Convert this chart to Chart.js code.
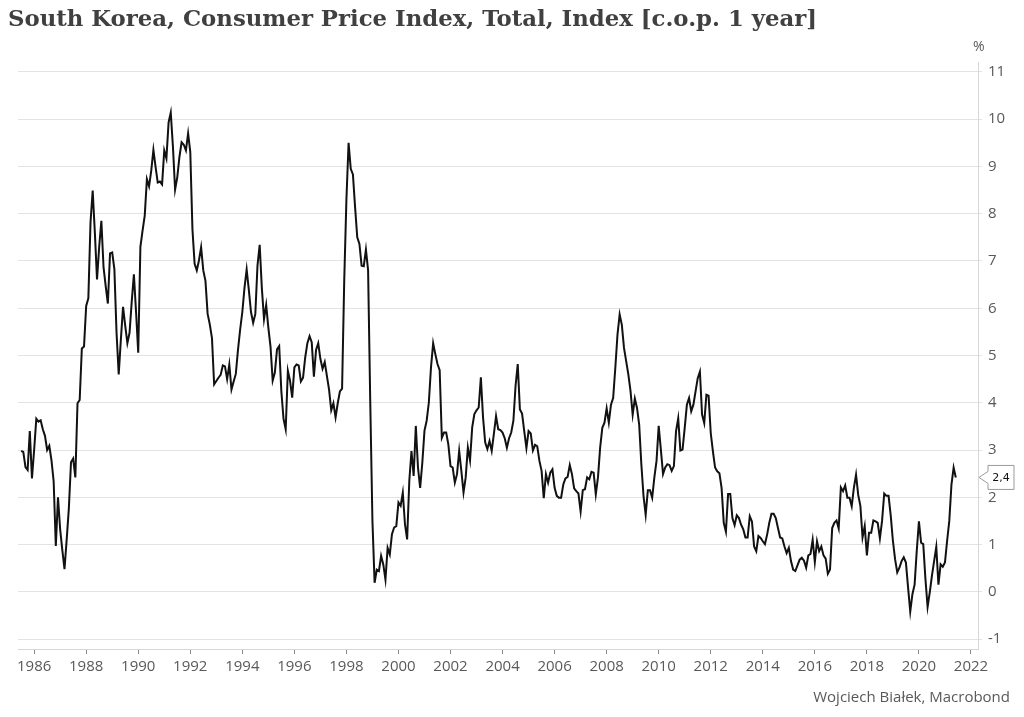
<!DOCTYPE html>
<html>
<head>
<meta charset="utf-8">
<script src="https://cdn.jsdelivr.net/npm/chart.js@4"></script>
<style>
  html, body { margin: 0; padding: 0; background: #fff; }
  #wrap { position: relative; width: 1024px; height: 717px; }
  #title {
    position: absolute; left: 8px; top: 5px;
    font-family: "DejaVu Serif", serif; font-weight: bold; font-size: 22.8px;
    color: #404040; white-space: nowrap;
  }
  #source {
    position: absolute; right: 14px; top: 686px;
    font-family: "Open Sans", sans-serif; font-size: 15px; color: #595959;
  }
</style>
</head>
<body>
<div id="wrap">
  <canvas id="chart"></canvas>
  <div id="title">South Korea, Consumer Price Index, Total, Index [c.o.p. 1 year]</div>
  <div id="source">Wojciech Białek, Macrobond</div>
</div>
<script>
// monthly y/y change, first value = July 1985, last = June 2021
const startYear = 1985;
const startMonth = 7;
const cpi = [
  2.98, 2.96, 2.64, 2.58, 3.4, 2.4, 3.0, 3.66, 3.6, 3.63, 3.44, 3.3,
  3.0, 3.09, 2.78, 2.34, 0.97, 2.0, 1.32, 0.88, 0.48, 1.1, 1.76, 2.74,
  2.82, 2.42, 3.99, 4.06, 5.15, 5.19, 6.05, 6.21, 7.82, 8.49, 7.6, 6.61,
  7.3, 7.85, 6.87, 6.47, 6.1, 7.16, 7.18, 6.83, 5.48, 4.6, 5.34, 6.03,
  5.63, 5.26, 5.48, 6.14, 6.72, 5.92, 5.06, 7.3, 7.64, 7.96, 8.73, 8.58,
  8.91, 9.35, 8.99, 8.66, 8.68, 8.62, 9.34, 9.17, 9.93, 10.14, 9.42, 8.51,
  8.77, 9.2, 9.51, 9.46, 9.34, 9.7, 9.31, 7.67, 6.94, 6.8, 7.01, 7.29,
  6.8, 6.58, 5.88, 5.66, 5.37, 4.39, 4.46, 4.53, 4.59, 4.79, 4.77, 4.5,
  4.81, 4.28, 4.45, 4.61, 5.12, 5.55, 5.92, 6.43, 6.82, 6.39, 5.92, 5.69,
  5.88, 6.91, 7.34, 6.43, 5.77, 6.07, 5.59, 5.19, 4.47, 4.64, 5.13, 5.2,
  4.24, 3.66, 3.44, 4.68, 4.47, 4.11, 4.75, 4.81, 4.79, 4.45, 4.53, 4.96,
  5.26, 5.41, 5.28, 4.55, 5.12, 5.26, 4.93, 4.72, 4.86, 4.57, 4.28, 3.84,
  3.99, 3.69, 3.99, 4.24, 4.3, 6.6, 8.3, 9.5, 8.95, 8.83, 8.14, 7.5,
  7.36, 6.9, 6.89, 7.24, 6.8, 4.0, 1.5, 0.19, 0.47, 0.44, 0.76, 0.58,
  0.26, 0.93, 0.79, 1.22, 1.36, 1.39, 1.89, 1.82, 2.1, 1.43, 1.11, 2.35,
  2.98, 2.45, 3.51, 2.63, 2.2, 2.73, 3.41, 3.62, 4.0, 4.75, 5.26, 5.03,
  4.82, 4.69, 3.26, 3.37, 3.37, 3.12, 2.66, 2.63, 2.31, 2.49, 2.98, 2.56,
  2.1, 2.42, 3.05, 2.78, 3.48, 3.76, 3.84, 3.9, 4.54, 3.69, 3.16, 3.02,
  3.19, 2.98, 3.34, 3.72, 3.44, 3.42, 3.37, 3.25, 3.05, 3.25, 3.37, 3.62,
  4.36, 4.82, 3.86, 3.77, 3.4, 3.04, 3.4, 3.35, 2.99, 3.11, 3.08, 2.77,
  2.56, 1.98, 2.49, 2.31, 2.52, 2.59, 2.2, 2.03, 1.99, 1.99, 2.27, 2.4,
  2.43, 2.68, 2.49, 2.19, 2.13, 2.08, 1.7, 2.15, 2.17, 2.42, 2.38, 2.54,
  2.52, 2.06, 2.42, 3.05, 3.47, 3.58, 3.88, 3.58, 3.96, 4.1, 4.74, 5.44,
  5.87, 5.65, 5.16, 4.88, 4.6, 4.25, 3.75, 4.09, 3.89, 3.54, 2.7, 2.03,
  1.63, 2.15, 2.15, 1.99, 2.42, 2.77, 3.51, 3.01, 2.49, 2.63, 2.7, 2.68,
  2.56, 2.66, 3.4, 3.67, 2.99, 3.01, 3.47, 3.96, 4.1, 3.82, 3.96, 4.24,
  4.52, 4.66, 3.75, 3.57, 4.17, 4.15, 3.36, 2.97, 2.63, 2.55, 2.51, 2.2,
  1.46, 1.27, 2.07, 2.07, 1.56, 1.41, 1.62, 1.56, 1.42, 1.32, 1.15, 1.15,
  1.6, 1.49, 0.96, 0.86, 1.18, 1.14, 1.07, 1.01, 1.21, 1.46, 1.65, 1.65,
  1.56, 1.35, 1.15, 1.13, 0.96, 0.82, 0.93, 0.65, 0.47, 0.44, 0.56, 0.68,
  0.72, 0.66, 0.51, 0.77, 0.8, 1.1, 0.63, 1.07, 0.86, 0.96, 0.77, 0.7,
  0.38, 0.47, 1.35, 1.46, 1.51, 1.34, 2.21, 2.13, 2.25, 1.99, 1.99, 1.81,
  2.2, 2.48, 2.05, 1.82, 1.15, 1.39, 0.77, 1.25, 1.25, 1.51, 1.49, 1.46,
  1.13, 1.5, 2.08, 2.03, 2.03, 1.61, 1.08, 0.69, 0.41, 0.51, 0.65, 0.73,
  0.62, 0.09, -0.42, -0.05, 0.15, 0.87, 1.49, 1.04, 1.01, 0.27, -0.32, -0.01,
  0.34, 0.65, 0.95, 0.15, 0.58, 0.53, 0.62, 1.08, 1.5, 2.27, 2.63, 2.42
];
const yearTicks = [1986, 1988, 1990, 1992, 1994, 1996, 1998, 2000, 2002, 2004,
  2006, 2008, 2010, 2012, 2014, 2016, 2018, 2020, 2022];
const valueTicks = [-1, 0, 1, 2, 3, 4, 5, 6, 7, 8, 9, 10, 11];
const lastLabel = "2,4";
const unitLabel = "%";

const points = cpi.map((v, i) => ({ x: startYear + (startMonth - 1 + i) / 12, y: v }));

// "%" above the axis and the value tag for the last point
const extras = {
  id: "extras",
  afterDraw(chart) {
    const ctx = chart.ctx;
    const yScale = chart.scales.y;
    const right = chart.chartArea.right;
    ctx.save();
    ctx.font = "14px 'Open Sans', sans-serif";
    ctx.fillStyle = "#595959";
    ctx.textAlign = "left";
    ctx.textBaseline = "middle";
    ctx.fillText(unitLabel, right - 5, 47);

    const py = yScale.getPixelForValue(cpi[cpi.length - 1]);
    const bx = right + 10, bw = 26, bh = 24;
    ctx.beginPath();
    ctx.moveTo(right + 1, py);
    ctx.lineTo(bx, py - 6);
    ctx.lineTo(bx, py - bh / 2);
    ctx.lineTo(bx + bw, py - bh / 2);
    ctx.lineTo(bx + bw, py + bh / 2);
    ctx.lineTo(bx, py + bh / 2);
    ctx.lineTo(bx, py + 6);
    ctx.closePath();
    ctx.fillStyle = "#fff";
    ctx.fill();
    ctx.strokeStyle = "#9a9a9a";
    ctx.lineWidth = 1;
    ctx.stroke();
    ctx.fillStyle = "#111";
    ctx.font = "11px 'DejaVu Sans', sans-serif";
    ctx.textAlign = "center";
    ctx.fillText(lastLabel, bx + bw / 2, py + 1);
    ctx.restore();
  }
};

new Chart(document.getElementById("chart"), {
  type: "line",
  data: {
    datasets: [{
      data: points,
      borderColor: "#111",
      borderWidth: 2,
      pointRadius: 0,
      tension: 0,
      fill: false
    }]
  },
  options: {
    responsive: true,
    maintainAspectRatio: false,
    animation: false,
    layout: { padding: { top: 62, left: 18, right: 0, bottom: 0 } },
    plugins: {
      legend: { display: false },
      tooltip: { enabled: false }
    },
    scales: {
      x: {
        type: "linear",
        min: 1985.38,
        max: 2022.27,
        afterBuildTicks: (scale) => { scale.ticks = yearTicks.map(v => ({ value: v })); },
        afterFit: (scale) => { scale.height = 68; },
        grid: { drawOnChartArea: false, drawTicks: true, tickLength: 5, color: "#8a8a8a" },
        border: { display: true, color: "#d6d6d6" },
        ticks: {
          padding: 4,
          maxRotation: 0,
          color: "#595959",
          font: { family: "Open Sans", size: 15 },
          callback: (v) => String(v)
        }
      },
      y: {
        position: "right",
        min: -1.21,
        max: 11.21,
        afterBuildTicks: (scale) => { scale.ticks = valueTicks.map(v => ({ value: v })); },
        afterFit: (scale) => { scale.width = 46; },
        grid: { color: "#e3e3e3", tickLength: 4, drawTicks: true },
        border: { display: true, color: "#d6d6d6" },
        ticks: {
          padding: 6,
          color: "#595959",
          font: { family: "Open Sans", size: 15 },
          callback: (v) => String(v)
        }
      }
    }
  },
  plugins: [extras]
});
</script>
</body>
</html>
